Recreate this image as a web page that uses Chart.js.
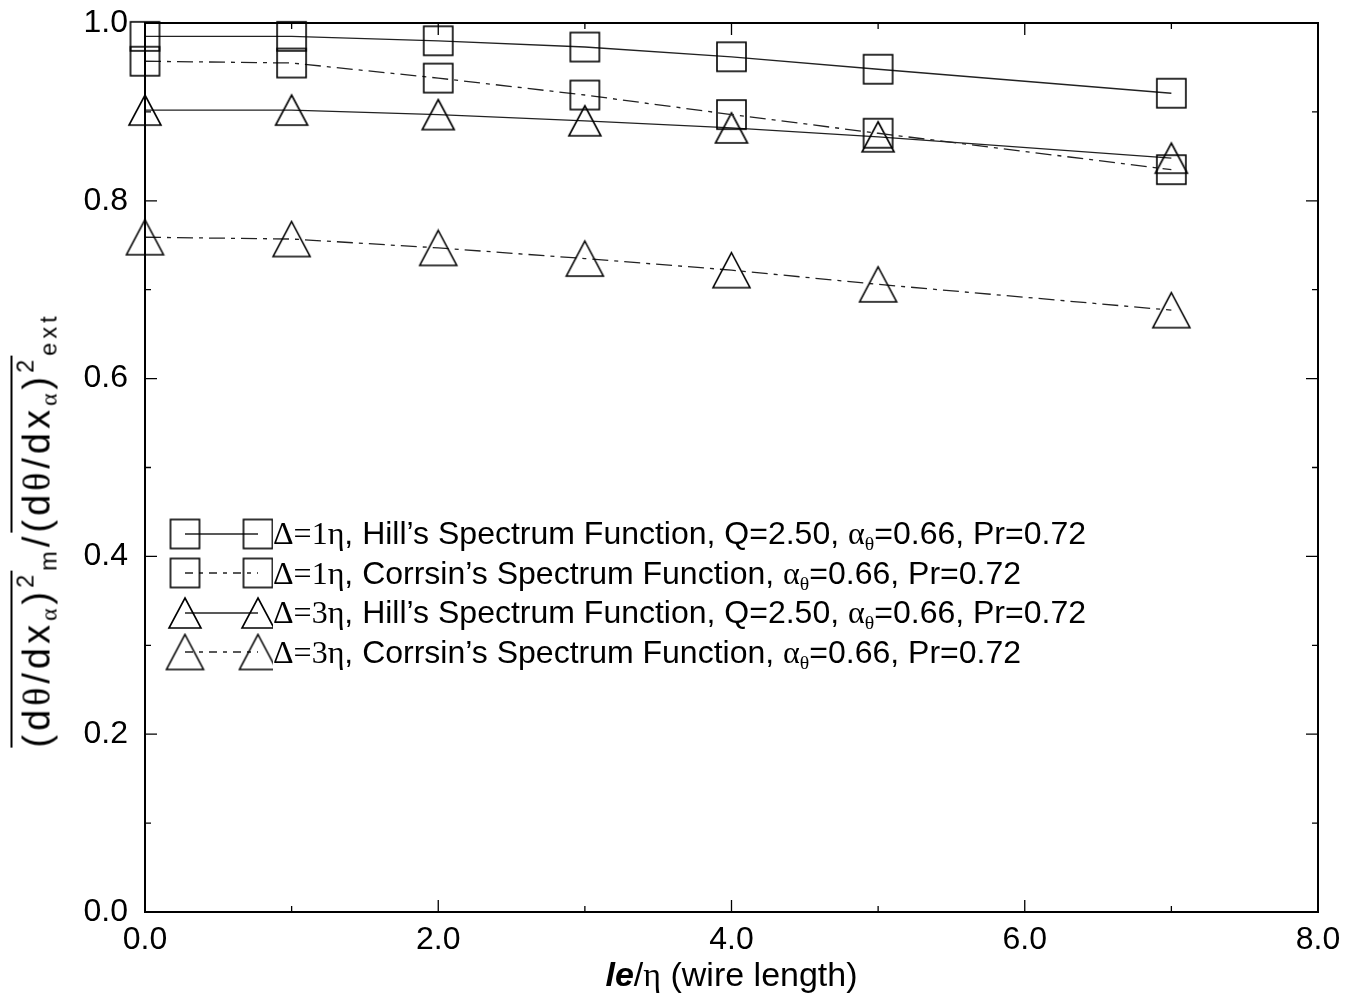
<!DOCTYPE html>
<html>
<head>
<meta charset="utf-8">
<title>Wire length correction</title>
<script src="https://cdn.jsdelivr.net/npm/chart.js@4.4.1/dist/chart.umd.min.js"></script>
<style>
  html, body { margin: 0; padding: 0; background: #fff; }
  #wrap { position: relative; width: 1356px; height: 998px; overflow: hidden; }
  #chart { position: absolute; left: 0; top: 0; }
  .sans { font-family: "Liberation Sans", Arial, sans-serif; }
  .serif { font-family: "Liberation Serif", "Times New Roman", serif; }
  #xtitle {
    position: absolute; left: 145px; width: 1173px; top: 957px;
    text-align: center; font-size: 34px; line-height: 34px; color: #000;
  }
  #xtitle b { font-style: italic; }
  #ytitle {
    position: absolute; left: 34px; top: 530px;
    transform: translate(-50%, -50%) rotate(-90deg);
    white-space: nowrap; font-size: 38px; line-height: 42px; color: #000;
    letter-spacing: 4px;
  }
  .ov { display: inline-block; border-top: 2px solid #000; padding-top: 6px; line-height: 36px; }
  #ytitle sub, #legend sub { font-size: 0.62em; vertical-align: -0.3em; line-height: 0; }
  #ytitle sup { font-size: 0.62em; vertical-align: 0.7em; line-height: 0; }
  #legend { position: absolute; left: 165px; top: 514px; }
  .row { display: flex; align-items: center; height: 39.5px; font-size: 32px; color: #000; white-space: nowrap; }
  .row canvas { flex: none; }
</style>
</head>
<body>
<div id="wrap">
  <canvas id="chart" width="1356" height="998"></canvas>
  <div id="xtitle" class="sans"><b>le</b>/<span class="serif">η</span> (wire length)</div>
  <div id="ytitle" class="sans"><span class="ov">(d<span class="serif">θ</span>/dx<sub class="serif">α</sub>)<sup>2</sup></span><sub>m</sub>/<span class="ov">(d<span class="serif">θ</span>/dx<sub class="serif">α</sub>)<sup>2</sup></span><sub>ext</sub></div>
  <div id="legend" class="sans"></div>
</div>
<script>
// wire length (in Kolmogorov scales)
const X_VALUES = [0, 1, 2, 3, 4, 5, 7];
// attenuation ratio of the derivative variance
const HILL_1 = [0.985, 0.985, 0.980, 0.973, 0.962, 0.948, 0.921];
const CORRSIN_1 = [0.957, 0.955, 0.938, 0.919, 0.897, 0.876, 0.835];
const HILL_3 = [0.902, 0.902, 0.897, 0.890, 0.882, 0.872, 0.848];
const CORRSIN_3 = [0.759, 0.757, 0.747, 0.735, 0.722, 0.706, 0.677];

const X_TICKS = [0, 2, 4, 6, 8];
const X_MINOR = [1, 3, 5, 7];
const Y_TICKS = [0, 0.2, 0.4, 0.6, 0.8, 1.0];
const Y_MINOR = [0.1, 0.3, 0.5, 0.7, 0.9];

const LEGEND_LABELS = [
  '<span class="serif">Δ=1η</span>, Hill’s Spectrum Function, Q=2.50, <span class="serif">α<sub>θ</sub></span>=0.66, Pr=0.72',
  '<span class="serif">Δ=1η</span>, Corrsin’s Spectrum Function, <span class="serif">α<sub>θ</sub></span>=0.66, Pr=0.72',
  '<span class="serif">Δ=3η</span>, Hill’s Spectrum Function, Q=2.50, <span class="serif">α<sub>θ</sub></span>=0.66, Pr=0.72',
  '<span class="serif">Δ=3η</span>, Corrsin’s Spectrum Function, <span class="serif">α<sub>θ</sub></span>=0.66, Pr=0.72',
];

const INK = "#000";
const LINE_INK = "#222";
const DASH = [16, 6, 4, 6];

// hollow marker images, so the line shows through them
function squareMarker(side) {
  const c = document.createElement("canvas");
  c.width = side + 4;
  c.height = side + 4;
  const ctx = c.getContext("2d");
  ctx.strokeStyle = INK;
  ctx.lineWidth = 1.6;
  ctx.strokeRect(2, 2, side, side);
  return c;
}

function triangleMarker(w, h) {
  const c = document.createElement("canvas");
  c.width = w + 4;
  c.height = h + 4;
  const ctx = c.getContext("2d");
  ctx.strokeStyle = INK;
  ctx.lineWidth = 1.6;
  ctx.beginPath();
  ctx.moveTo(2 + w / 2, 2);
  ctx.lineTo(2 + w, 2 + h);
  ctx.lineTo(2, 2 + h);
  ctx.closePath();
  ctx.stroke();
  return c;
}

const SQUARE = squareMarker(29);
const TRI_SMALL = triangleMarker(32, 30);
const TRI_LARGE = triangleMarker(37, 35);

const SERIES = [
  { data: HILL_1, marker: SQUARE, dash: [] },
  { data: CORRSIN_1, marker: SQUARE, dash: DASH },
  { data: HILL_3, marker: TRI_SMALL, dash: [] },
  { data: CORRSIN_3, marker: TRI_LARGE, dash: DASH },
];

// frame plus inward ticks on all four sides
const frameTicks = {
  id: "frameTicks",
  afterDatasetsDraw(chart) {
    const { ctx, chartArea: a, scales } = chart;
    const x = scales.x;
    const y = scales.y;
    ctx.save();
    ctx.strokeStyle = INK;
    ctx.lineWidth = 1.3;
    ctx.beginPath();
    const tick = (px, len, vertical) => {
      if (vertical) {
        ctx.moveTo(px, a.bottom);
        ctx.lineTo(px, a.bottom - len);
        ctx.moveTo(px, a.top);
        ctx.lineTo(px, a.top + len);
      } else {
        ctx.moveTo(a.left, px);
        ctx.lineTo(a.left + len, px);
        ctx.moveTo(a.right, px);
        ctx.lineTo(a.right - len, px);
      }
    };
    X_TICKS.forEach((v) => tick(x.getPixelForValue(v), 12, true));
    X_MINOR.forEach((v) => tick(x.getPixelForValue(v), 6, true));
    Y_TICKS.forEach((v) => tick(y.getPixelForValue(v), 12, false));
    Y_MINOR.forEach((v) => tick(y.getPixelForValue(v), 6, false));
    ctx.stroke();
    ctx.lineWidth = 2;
    ctx.strokeRect(a.left, a.top, a.right - a.left, a.bottom - a.top);
    ctx.restore();
  },
};

new Chart(document.getElementById("chart"), {
  type: "line",
  data: {
    datasets: SERIES.map((s, i) => ({
      label: "series " + (i + 1),
      data: X_VALUES.map((xv, k) => ({ x: xv, y: s.data[k] })),
      borderColor: LINE_INK,
      borderWidth: 1.3,
      borderDash: s.dash,
      pointStyle: s.marker,
      pointRadius: 4,
      tension: 0,
      fill: false,
      clip: false,
    })),
  },
  options: {
    responsive: false,
    animation: false,
    layout: { padding: { top: 23, right: 38, left: 0, bottom: 0 } },
    plugins: {
      legend: { display: false },
      tooltip: { enabled: false },
    },
    scales: {
      x: {
        type: "linear",
        min: 0,
        max: 8,
        afterFit: (scale) => {
          scale.height = 86;
          scale.paddingLeft = 0;
          scale.paddingRight = 0;
        },
        afterBuildTicks: (scale) => { scale.ticks = X_TICKS.map((v) => ({ value: v })); },
        grid: { display: false, drawTicks: false },
        border: { display: false },
        ticks: {
          padding: 9,
          color: "#000",
          font: { family: "Liberation Sans", size: 32 },
          maxRotation: 0,
          callback: (v) => v.toFixed(1),
        },
      },
      y: {
        type: "linear",
        min: 0,
        max: 1,
        afterFit: (scale) => {
          scale.width = 145;
          scale.paddingTop = 0;
          scale.paddingBottom = 0;
        },
        afterBuildTicks: (scale) => { scale.ticks = Y_TICKS.map((v) => ({ value: v })); },
        grid: { display: false, drawTicks: false },
        border: { display: false },
        ticks: {
          padding: 17,
          color: "#000",
          font: { family: "Liberation Sans", size: 32 },
          callback: (v) => v.toFixed(1),
        },
      },
    },
  },
  plugins: [frameTicks],
});

// legend rows: marker, line, marker, then label
const legend = document.getElementById("legend");
SERIES.forEach((s, i) => {
  const row = document.createElement("div");
  row.className = "row";
  const c = document.createElement("canvas");
  c.width = 108;
  c.height = 40;
  const ctx = c.getContext("2d");
  const x1 = 20;
  const x2 = 93;
  ctx.strokeStyle = LINE_INK;
  ctx.lineWidth = 1.3;
  ctx.setLineDash(s.dash.length ? [8, 6, 4, 6] : []);
  ctx.beginPath();
  ctx.moveTo(x1, 20);
  ctx.lineTo(x2, 20);
  ctx.stroke();
  const m = s.marker;
  ctx.drawImage(m, x1 - m.width / 2, 20 - m.height / 2);
  ctx.drawImage(m, x2 - m.width / 2, 20 - m.height / 2);
  row.appendChild(c);
  const t = document.createElement("span");
  t.className = "txt";
  t.innerHTML = LEGEND_LABELS[i];
  row.appendChild(t);
  legend.appendChild(row);
});
</script>
</body>
</html>
